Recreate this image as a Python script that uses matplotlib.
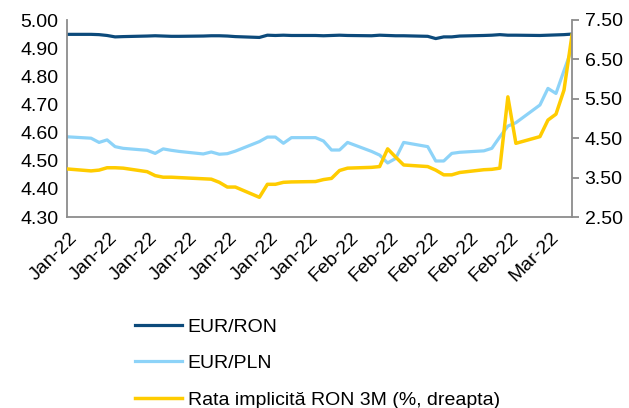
import numpy as np
import pandas as pd
import matplotlib
matplotlib.use("Agg")
import matplotlib.pyplot as plt
import matplotlib.dates as mdates

plt.rcParams['font.family'] = ['Liberation Sans', 'DejaVu Sans']

# business days from the chart (Dec 31 2021 .. Mar 4 2022)
dates = pd.to_datetime([
    "2021-12-31",
    "2022-01-03", "2022-01-04", "2022-01-05", "2022-01-06", "2022-01-07",
    "2022-01-10", "2022-01-11", "2022-01-12", "2022-01-13", "2022-01-14",
    "2022-01-17", "2022-01-18", "2022-01-19", "2022-01-20", "2022-01-21",
    "2022-01-24", "2022-01-25", "2022-01-26", "2022-01-27", "2022-01-28",
    "2022-01-31", "2022-02-01", "2022-02-02", "2022-02-03", "2022-02-04",
    "2022-02-07", "2022-02-08", "2022-02-09", "2022-02-10", "2022-02-11",
    "2022-02-14", "2022-02-15", "2022-02-16", "2022-02-17", "2022-02-18",
    "2022-02-21", "2022-02-22", "2022-02-23", "2022-02-24", "2022-02-25",
    "2022-02-28", "2022-03-01", "2022-03-02", "2022-03-03", "2022-03-04",
])

eur_ron = [4.949,
           4.949, 4.948, 4.945, 4.940, 4.941,
           4.943, 4.944, 4.943, 4.942, 4.942,
           4.943, 4.944, 4.944, 4.943, 4.941,
           4.938, 4.946, 4.945, 4.946, 4.945,
           4.945, 4.944, 4.945, 4.946, 4.945,
           4.944, 4.946, 4.945, 4.944, 4.944,
           4.942, 4.934, 4.940, 4.940, 4.943,
           4.945, 4.946, 4.948, 4.946, 4.946,
           4.945, 4.946, 4.947, 4.948, 4.950]

eur_pln = [4.585,
           4.580, 4.565, 4.574, 4.550, 4.544,
           4.537, 4.526, 4.542, 4.537, 4.533,
           4.524, 4.531, 4.523, 4.525, 4.534,
           4.568, 4.584, 4.584, 4.562, 4.582,
           4.582, 4.570, 4.538, 4.538, 4.565,
           4.533, 4.520, 4.492, 4.508, 4.565,
           4.550, 4.499, 4.499, 4.526, 4.530,
           4.535, 4.544, 4.585, 4.623, 4.635,
           4.698, 4.757, 4.739, 4.820, 4.899]

rata_ron = [3.72,
            3.67, 3.69, 3.75, 3.75, 3.74,
            3.65, 3.55, 3.51, 3.51, 3.50,
            3.47, 3.46, 3.38, 3.26, 3.26,
            3.00, 3.33, 3.33, 3.38, 3.39,
            3.40, 3.45, 3.48, 3.68, 3.74,
            3.76, 3.78, 4.23, 4.02, 3.82,
            3.78, 3.69, 3.57, 3.57, 3.63,
            3.70, 3.71, 3.74, 5.55, 4.37,
            4.54, 4.96, 5.11, 5.72, 7.12]

label_dates = pd.date_range("2022-01-01", periods=13, freq="5D")

c_ron = "#0C4A7B"
c_pln = "#8DD3F8"
c_rate = "#FFCC00"
grey = "#8C8C8C"

fig = plt.figure(figsize=(6.29, 4.08), dpi=100)
ax = fig.add_axes([67/629, 1-217/408, (572-67)/629, (217-20)/408])
ax2 = ax.twinx()

l1, = ax.plot(dates, eur_ron, color=c_ron, lw=2.3, label="EUR/RON")
l2, = ax.plot(dates, eur_pln, color=c_pln, lw=2.3, label="EUR/PLN")
l3, = ax2.plot(dates, rata_ron, color=c_rate, lw=2.5,
               label="Rata implicită RON 3M (%, dreapta)")

ax.set_ylim(4.30, 5.00)
ax.set_yticks(np.arange(4.30, 5.001, 0.10))
ax.yaxis.set_major_formatter(matplotlib.ticker.FormatStrFormatter("%.2f"))
ax2.set_ylim(2.50, 7.50)
ax2.set_yticks(np.arange(2.50, 7.51, 1.0))
ax2.yaxis.set_major_formatter(matplotlib.ticker.FormatStrFormatter("%.2f"))

ax.set_xlim(dates[0], dates[-1])
ax.set_xticks(label_dates)
ax.xaxis.set_major_formatter(mdates.DateFormatter("%b-%y"))
for t in ax.get_xticklabels():
    t.set_rotation(45)
    t.set_ha("right")
    t.set_va("center")
    t.set_rotation_mode("anchor")

for a in (ax, ax2):
    for s in a.spines.values():
        s.set_color(grey)
        s.set_linewidth(1.3)
    a.spines["top"].set_visible(False)
ax.spines["right"].set_visible(False)
ax2.spines["left"].set_visible(False)
ax2.spines["bottom"].set_visible(False)

ax.tick_params(axis="y", length=0, labelsize=14, pad=6)
ax.tick_params(axis="x", length=0, labelsize=14, pad=13)
ax2.tick_params(axis="y", length=5, width=1.3, color=grey, labelsize=14, pad=4)

fig.legend(handles=[l1, l2, l3], loc="upper left",
           bbox_to_anchor=(135/629, 1-318/408), frameon=False,
           fontsize=14, handlelength=2.4, handletextpad=0.3,
           labelspacing=0.98, borderpad=0, borderaxespad=0)

fig.savefig("out.png", dpi=100)
